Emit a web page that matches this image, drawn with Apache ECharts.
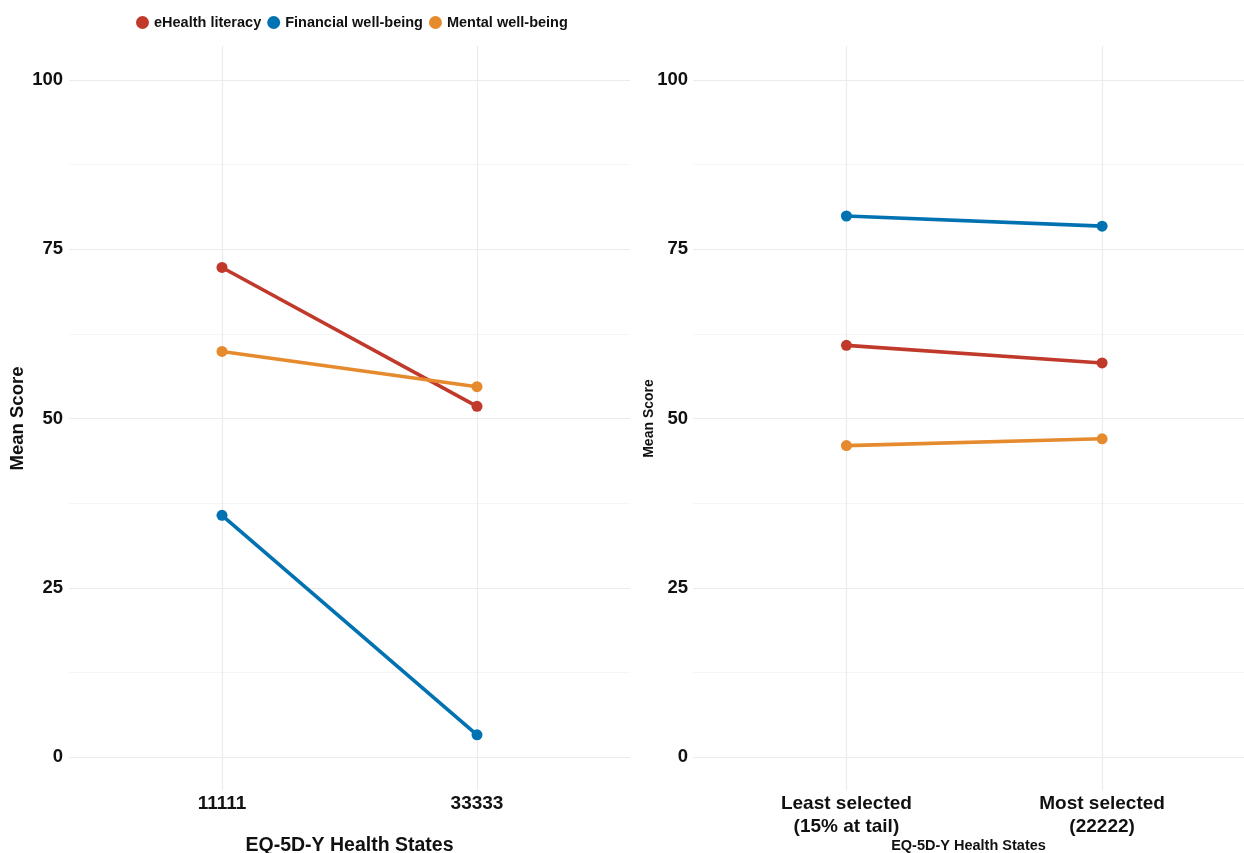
<!DOCTYPE html>
<html>
<head>
<meta charset="utf-8">
<script src="https://cdn.jsdelivr.net/npm/echarts@6/dist/echarts.min.js"></script>
<style>html,body{margin:0;padding:0;background:#fff}#c{width:1244px;height:853px}</style>
</head>
<body>
<div id="c"></div>
<script>
const leftCats = ['11111', '33333'];
const rightCats = ['Least selected\n(15% at tail)', 'Most selected\n(22222)'];
const seriesNames = ['eHealth literacy', 'Financial well-being', 'Mental well-being'];
const leftEHealth = [72.3, 51.8];
const leftFinancial = [35.7, 3.3];
const leftMental = [59.9, 54.7];
const rightEHealth = [60.8, 58.2];
const rightFinancial = [79.9, 78.4];
const rightMental = [46.0, 47.0];
const yTicks = [0, 25, 50, 75, 100];
const yMinorTicks = [12.5, 37.5, 62.5, 87.5];
const colors = ['#C0392B', '#0072B2', '#E68A2E'];

const FONT = 'Liberation Sans, Arial, sans-serif';
const chart = echarts.init(document.getElementById('c'), null, {renderer: 'canvas'});

function pts(vals) { return vals.map((v, i) => [i + 1, v]); }

function gridLines(idx) {
  const major = yTicks.map(v => ({yAxis: v, lineStyle: {color: '#EBEBEB', width: 1.1}}));
  const minor = yMinorTicks.map(v => ({yAxis: v, lineStyle: {color: '#F2F2F2', width: 0.8}}));
  const vert = [1, 2].map(v => ({xAxis: v, lineStyle: {color: '#EBEBEB', width: 1.1}}));
  return {
    name: '_grid' + idx, type: 'line', xAxisIndex: idx, yAxisIndex: idx, data: [], z: 0,
    markLine: {silent: true, symbol: 'none', z: 0, animation: false,
      label: {show: false}, emphasis: {disabled: true},
      lineStyle: {type: 'solid'}, data: minor.concat(major, vert)}
  };
}

function lineSeries(name, vals, idx, color) {
  return {
    name: name, type: 'line', xAxisIndex: idx, yAxisIndex: idx, data: pts(vals),
    symbol: 'circle', symbolSize: 11, z: 3,
    itemStyle: {color: color}, lineStyle: {color: color, width: 3.6}
  };
}

function xAxis(idx, cats, max, nameSize, nameGap) {
  return {
    type: 'value', gridIndex: idx, min: 0.4, max: max,
    axisLine: {show: false}, axisTick: {show: false}, splitLine: {show: false},
    axisLabel: {customValues: [1, 2], formatter: v => cats[Math.round(v) - 1],
      fontFamily: FONT, fontWeight: 'bold', fontSize: 19, color: '#111', lineHeight: 23, margin: 1},
    name: 'EQ-5D-Y Health States', nameLocation: 'middle', nameGap: nameGap, nameMoveOverlap: false,
    nameTextStyle: {fontFamily: FONT, fontWeight: 'bold', fontSize: nameSize, color: '#111'}
  };
}

function yAxis(idx, nameSize, nameGap, margin) {
  return {
    type: 'value', gridIndex: idx, min: -5, max: 105,
    axisLine: {show: false}, axisTick: {show: false}, splitLine: {show: false},
    axisLabel: {customValues: yTicks, fontFamily: FONT, fontWeight: 'bold', fontSize: 18.5, color: '#111', margin: margin},
    name: 'Mean Score', nameLocation: 'middle', nameGap: nameGap, nameMoveOverlap: false,
    nameTextStyle: {fontFamily: FONT, fontWeight: 'bold', fontSize: nameSize, color: '#111'}
  };
}

chart.setOption({
  animation: false,
  backgroundColor: '#ffffff',
  legend: {
    data: seriesNames, left: 131, top: 10, icon: 'circle', itemWidth: 13, itemHeight: 13, itemGap: 6,
    textStyle: {fontFamily: FONT, fontWeight: 'bold', fontSize: 14.5, color: '#111'}
  },
  grid: [
    {left: 69, right: 614, top: 46, bottom: 62, outerBoundsMode: 'none', containLabel: false},
    {left: 693, right: 0, top: 46, bottom: 62, outerBoundsMode: 'none', containLabel: false}
  ],
  xAxis: [xAxis(0, leftCats, 2.6, 19.5, 45), xAxis(1, rightCats, 2.555, 14.5, 47)],
  yAxis: [yAxis(0, 18.5, 42, 6), yAxis(1, 14, 37, 5)],
  series: [
    gridLines(0), gridLines(1),
    lineSeries(seriesNames[0], leftEHealth, 0, colors[0]),
    lineSeries(seriesNames[1], leftFinancial, 0, colors[1]),
    lineSeries(seriesNames[2], leftMental, 0, colors[2]),
    lineSeries(seriesNames[0], rightEHealth, 1, colors[0]),
    lineSeries(seriesNames[1], rightFinancial, 1, colors[1]),
    lineSeries(seriesNames[2], rightMental, 1, colors[2])
  ]
});
</script>
</body>
</html>
